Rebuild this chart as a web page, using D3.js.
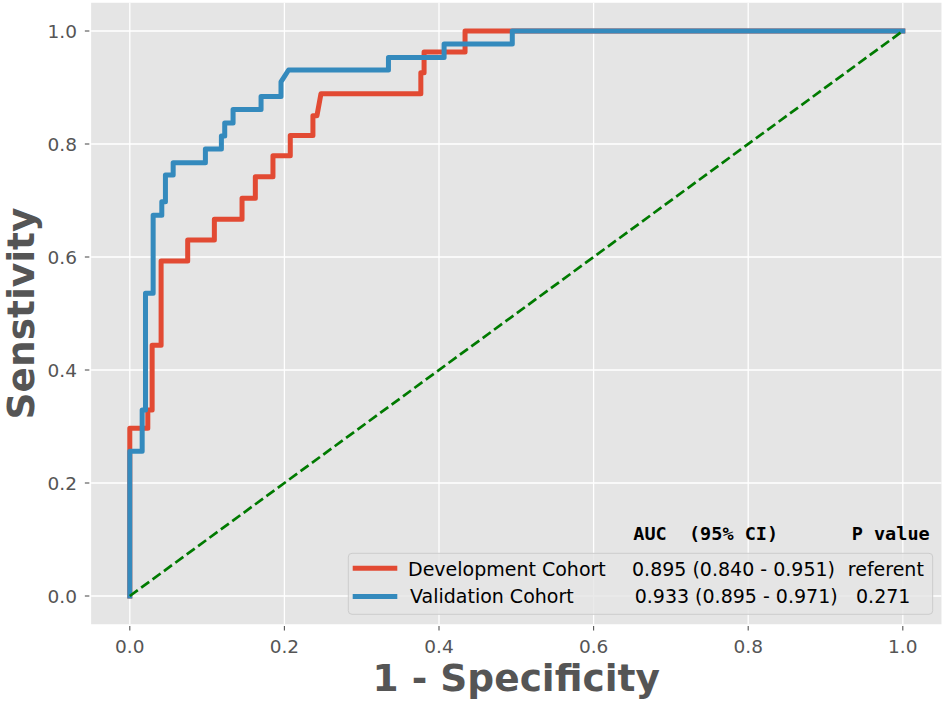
<!DOCTYPE html>
<html>
<head>
<meta charset="utf-8">
<script src="https://cdn.jsdelivr.net/npm/d3@7/dist/d3.min.js"></script>
<style>
  html, body { margin: 0; padding: 0; background: #fff; }
  svg { display: block; }
  text { font-family: "DejaVu Sans", sans-serif; }
  text.mono { font-family: "DejaVu Sans Mono", monospace; white-space: pre; }
</style>
</head>
<body>
<svg id="chart" width="945" height="705"></svg>
<script>
// ---- data ----
const devFpr = [0, 0, 0.0233, 0.0233, 0.0289, 0.0289, 0.0405, 0.0405, 0.0749, 0.0749, 0.1094, 0.1094, 0.1452, 0.1452, 0.1624, 0.1624, 0.1852, 0.1852, 0.2076, 0.2076, 0.2369, 0.2369, 0.2421, 0.2473, 0.3765, 0.3765, 0.3807, 0.3807, 0.4337, 0.4337, 1.0];
const devTpr = [0, 0.297, 0.297, 0.329, 0.329, 0.444, 0.444, 0.593, 0.593, 0.630, 0.630, 0.667, 0.667, 0.704, 0.704, 0.742, 0.742, 0.779, 0.779, 0.815, 0.815, 0.850, 0.850, 0.889, 0.889, 0.926, 0.926, 0.963, 0.963, 1.0, 1.0];
const valFpr = [0, 0, 0.016, 0.016, 0.0203, 0.0203, 0.0302, 0.0302, 0.0414, 0.0414, 0.0461, 0.0461, 0.0561, 0.0561, 0.0978, 0.0978, 0.1185, 0.1185, 0.1228, 0.1228, 0.1336, 0.1336, 0.1698, 0.1698, 0.1956, 0.1956, 0.2054, 0.3346, 0.3346, 0.4066, 0.4066, 0.4948, 0.4948, 1.0];
const valTpr = [0, 0.256, 0.256, 0.329, 0.329, 0.536, 0.536, 0.674, 0.674, 0.698, 0.698, 0.745, 0.745, 0.767, 0.767, 0.791, 0.791, 0.814, 0.814, 0.837, 0.837, 0.861, 0.861, 0.884, 0.884, 0.910, 0.931, 0.931, 0.953, 0.953, 0.977, 0.977, 1.0, 1.0];
const chanceX = [0, 1];
const chanceY = [0, 1];
const xTicks = [0.0, 0.2, 0.4, 0.6, 0.8, 1.0];
const yTicks = [0.0, 0.2, 0.4, 0.6, 0.8, 1.0];
const seriesNames = ["Development Cohort", "Validation Cohort"];
const aucTexts = ["0.895 (0.840 - 0.951)", "0.933 (0.895 - 0.971)"];
const pTexts = ["referent", "0.271"];
const headerAuc = "AUC  (95% CI)";
const headerP = "P value";
const xLabel = "1 - Specificity";
const yLabel = "Senstivity";

// ---- layout ----
const svg = d3.select("#chart");
const x = d3.scaleLinear().domain([0, 1]).range([129.8, 902.8]);
const y = d3.scaleLinear().domain([0, 1]).range([596, 31]);
const x0 = x(-0.05), x1 = x(1.05), y0 = y(-0.05), y1 = y(1.05);

const colors = ["#E24A33", "#348ABD"];

// background
svg.append("rect").attr("x", x0).attr("y", y1)
  .attr("width", x1 - x0).attr("height", y0 - y1).attr("fill", "#E5E5E5");

// grid
const grid = svg.append("g").attr("stroke", "#fff").attr("stroke-width", 1.3);
grid.selectAll("line.gx").data(xTicks).join("line")
  .attr("x1", d => x(d)).attr("x2", d => x(d)).attr("y1", y1).attr("y2", y0);
grid.selectAll("line.gy").data(yTicks).join("line")
  .attr("y1", d => y(d)).attr("y2", d => y(d)).attr("x1", x0).attr("x2", x1);

// ticks
const fmt = d3.format(".1f");
const ax = svg.append("g");
ax.selectAll("line.tx").data(xTicks).join("line")
  .attr("x1", d => x(d)).attr("x2", d => x(d)).attr("y1", y0 + 1.8).attr("y2", y0 + 6.3)
  .attr("stroke", "#555").attr("stroke-width", 1.1);
ax.selectAll("text.tx").data(xTicks).join("text")
  .attr("x", d => x(d)).attr("y", 652.7).attr("text-anchor", "middle")
  .attr("font-size", "18.5px").attr("fill", "#555").text(d => fmt(d));
ax.selectAll("line.ty").data(yTicks).join("line")
  .attr("y1", d => y(d)).attr("y2", d => y(d)).attr("x1", x0 - 6.3).attr("x2", x0 - 1.8)
  .attr("stroke", "#555").attr("stroke-width", 1.1);
ax.selectAll("text.ty").data(yTicks).join("text")
  .attr("x", 77).attr("y", d => y(d) + 6.7).attr("text-anchor", "end")
  .attr("font-size", "18.5px").attr("fill", "#555").text(d => fmt(d));

// axis labels
svg.append("text").attr("x", (x0 + x1) / 2).attr("y", 691)
  .attr("text-anchor", "middle").attr("font-size", "37.5px").attr("font-weight", "bold")
  .attr("fill", "#555").text(xLabel);
svg.append("text").attr("transform", `translate(33.5,${(y0 + y1) / 2}) rotate(-90)`)
  .attr("text-anchor", "middle").attr("font-size", "37.5px").attr("font-weight", "bold")
  .attr("fill", "#555").text(yLabel);

// curves
const line = d3.line().x(d => x(d[0])).y(d => y(d[1]));
const dev = d3.zip(devFpr, devTpr);
const val = d3.zip(valFpr, valTpr);
[dev, val].forEach((pts, i) => {
  svg.append("path").datum(pts).attr("d", line)
    .attr("fill", "none").attr("stroke", colors[i]).attr("stroke-width", 5)
    .attr("stroke-linecap", "square").attr("stroke-linejoin", "round");
});
svg.append("path").datum(d3.zip(chanceX, chanceY)).attr("d", line)
  .attr("fill", "none").attr("stroke", "#007a00").attr("stroke-width", 2.7)
  .attr("stroke-dasharray", "9.9,4.2");

// header
svg.append("text").attr("class", "mono").attr("x", 633.3).attr("y", 540)
  .attr("font-weight", "bold").attr("font-size", "18.5px").attr("fill", "#000")
  .text(headerAuc);
svg.append("text").attr("class", "mono").attr("x", 851.7).attr("y", 540)
  .attr("font-weight", "bold").attr("font-size", "18.5px").attr("fill", "#000")
  .text(headerP);

// legend
const lg = svg.append("g");
lg.append("rect").attr("x", 348.3).attr("y", 553.3).attr("width", 932.7 - 348.3).attr("height", 614.3 - 553.3)
  .attr("rx", 3.7).attr("fill", "rgba(229,229,229,0.8)").attr("stroke", "#CCCCCC").attr("stroke-width", 1);
const rowY = [568.3, 596.5];
const baseY = [575.7, 603.3];
const nameX = [408, 410];
const aucX = [632, 634.7];
const pX = [847.8, 856];
seriesNames.forEach((n, i) => {
  lg.append("line").attr("x1", 355.2).attr("x2", 394.8).attr("y1", rowY[i]).attr("y2", rowY[i])
    .attr("stroke", colors[i]).attr("stroke-width", 5).attr("stroke-linecap", "square");
  lg.append("text").attr("x", nameX[i]).attr("y", baseY[i]).attr("font-size", "19px").attr("fill", "#000").text(n);
  lg.append("text").attr("x", aucX[i]).attr("y", baseY[i]).attr("font-size", "19px").attr("fill", "#000").text(aucTexts[i]);
  lg.append("text").attr("x", pX[i]).attr("y", baseY[i]).attr("font-size", "19px").attr("fill", "#000").text(pTexts[i]);
});
</script>
</body>
</html>
